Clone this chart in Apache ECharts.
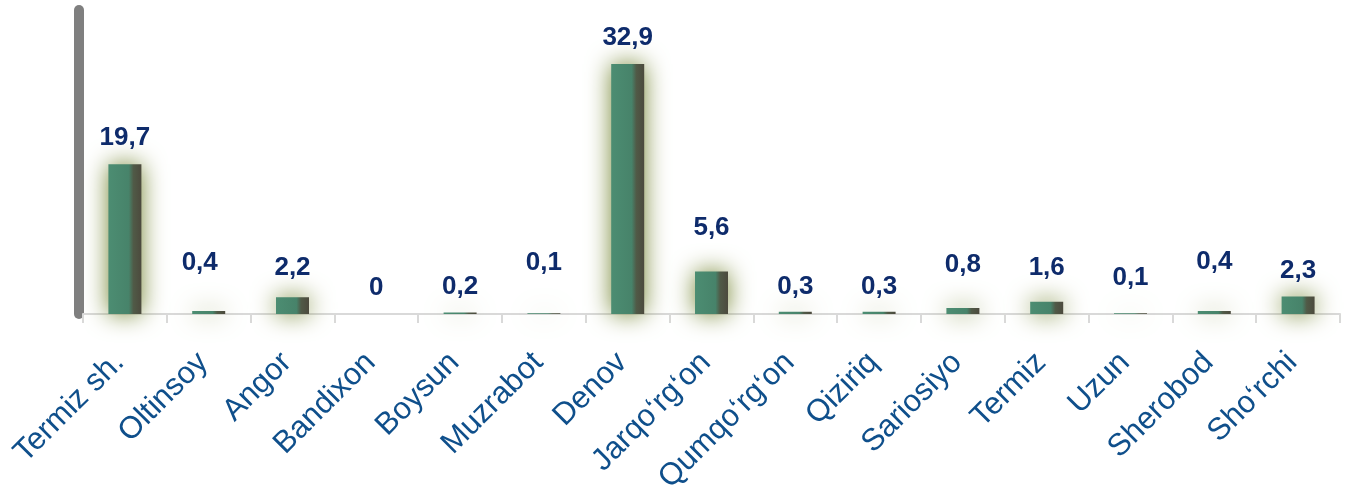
<!DOCTYPE html>
<html>
<head>
<meta charset="utf-8">
<script src="https://cdn.jsdelivr.net/npm/echarts@6/dist/echarts.min.js"></script>
<style>
  html, body { margin: 0; padding: 0; background: #ffffff; }
  #chart { width: 1349px; height: 490px; }
</style>
</head>
<body>
<div id="chart"></div>
<script>
// Districts shown along the category axis
const districts = [
  'Termiz sh.', 'Oltinsoy', 'Angor', 'Bandixon', 'Boysun', 'Muzrabot', 'Denov',
  'Jarqo\u2018rg\u2018on', 'Qumqo\u2018rg\u2018on', 'Qiziriq', 'Sariosiyo', 'Termiz',
  'Uzun', 'Sherobod', 'Sho\u2018rchi'
];

// Share per district, %
const shares = [19.7, 0.4, 2.2, 0, 0.2, 0.1, 32.9, 5.6, 0.3, 0.3, 0.8, 1.6, 0.1, 0.4, 2.3];

// Value axis range
const valueMax = 40;

// Per-label nudges [dx, dy] in px so small labels don't crowd their bars
const labelNudge = [
  [0, 0], [-9, -22], [0, -3], [0, 0], [0, 0], [0, -24], [0, 0], [0, -18],
  [0, 1], [0, 1], [0, -17], [0, -8], [0, -9], [0, -23], [0, 0]
];

const barFill = new echarts.graphic.LinearGradient(0, 0, 1, 0, [
  { offset: 0, color: '#4c8d72' },
  { offset: 0.62, color: '#47836a' },
  { offset: 0.76, color: '#505a47' },
  { offset: 1, color: '#4c4a3d' }
]);

const chart = echarts.init(document.getElementById('chart'), null, { renderer: 'canvas' });

chart.setOption({
  animation: false,
  backgroundColor: '#ffffff',
  grid: {
    left: 83, right: 9, top: 10, bottom: 176,
    containLabel: false,
    outerBoundsMode: 'none'
  },
  xAxis: {
    type: 'category',
    data: districts,
    boundaryGap: true,
    axisLine: { show: true, lineStyle: { color: '#d9d9d9', width: 2 } },
    axisTick: { show: true, length: 9, lineStyle: { color: '#d9d9d9', width: 2 } },
    axisLabel: {
      rotate: 45,
      interval: 0,
      margin: 38,
      padding: [0, 8, 0, 0],
      fontFamily: '"Liberation Sans", Arial, sans-serif',
      fontSize: 31,
      color: '#0f4f8b'
    }
  },
  yAxis: {
    type: 'value',
    min: 0,
    max: valueMax,
    offset: 4,
    axisLine: { show: true, lineStyle: { color: '#7f7f7f', width: 10 } },
    axisTick: { show: false },
    axisLabel: { show: false },
    splitLine: { show: false }
  },
  series: [{
    type: 'bar',
    barWidth: 33,
    data: shares.map((v, i) => ({
      value: v,
      label: { offset: labelNudge[i] }
    })),
    itemStyle: {
      color: barFill,
      shadowBlur: 24,
      shadowColor: 'rgba(118, 134, 52, 1)',
      shadowOffsetX: 0,
      shadowOffsetY: 0
    },
    label: {
      show: true,
      position: 'top',
      distance: 13,
      fontFamily: '"Liberation Sans", Arial, sans-serif',
      fontWeight: 'bold',
      fontSize: 26,
      color: '#0e2b6b',
      formatter: p => String(p.value).replace('.', ',')
    }
  }]
});
</script>
</body>
</html>
